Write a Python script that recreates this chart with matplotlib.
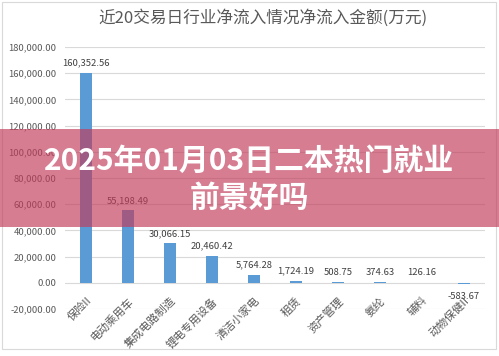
import matplotlib
matplotlib.use("Agg")
import matplotlib.pyplot as plt
from matplotlib.patches import Rectangle

plt.rcParams['font.family'] = ['Noto Sans CJK SC', 'DejaVu Sans']

categories = ["保险II", "电动乘用车", "集成电路制造", "锂电专用设备", "清洁小家电",
              "租赁", "资产管理", "氨纶", "辅料", "动物保健II"]
values = [160352.56, 55198.49, 30066.15, 20460.42, 5764.28,
          1724.19, 508.75, 374.63, 126.16, -583.67]
yticks = [-20000, 0, 20000, 40000, 60000, 80000, 100000, 120000, 140000, 160000, 180000]
title = "近20交易日行业净流入情况净流入金额(万元)"
banner_lines = ["2025年01月03日二本热门就业", "前景好吗"]

W, H = 499, 356
fig = plt.figure(figsize=(W / 100, H / 100), dpi=100)
fig.patch.set_facecolor("white")

# outer chart border
fig.patches.append(Rectangle((2 / W, 1 - 349 / H), 494 / W, 347 / H, transform=fig.transFigure,
                             fill=False, edgecolor="#d9d9d9", linewidth=0.8))

ax = fig.add_axes([65 / W, 1 - 309 / H, 420 / W, 262 / H])
x = list(range(len(categories)))
ax.bar(x, values, width=0.3, color="#5b9bd5", zorder=2)
ax.set_xlim(-0.5, len(categories) - 0.5)
ax.set_ylim(-20000, 180000)
ax.set_yticks(yticks)
ax.set_yticklabels([f"{v:,.2f}" for v in yticks], fontsize=6.8, color="#595959")
ax.tick_params(axis="y", length=0, pad=6)
ax.set_xticks([])
for s in ax.spines.values():
    s.set_visible(False)
ax.grid(axis="y", color="#d9d9d9", linewidth=0.8, zorder=0)
ax.set_axisbelow(True)

for xi, v in zip(x, values):
    if v >= 0:
        ax.annotate(f"{v:,.2f}", (xi, v), xytext=(0, 4), textcoords="offset points",
                    ha="center", va="bottom", fontsize=6.8, color="#404040")
    else:
        ax.annotate(f"{v:,.2f}", (xi, v), xytext=(0, -6), textcoords="offset points",
                    ha="center", va="top", fontsize=6.8, color="#404040")

for xi, c in zip(x, categories):
    ax.annotate(c, (xi, 0), xytext=(0, -9), textcoords="offset points",
                ha="right", va="top", rotation=45, rotation_mode="anchor",
                fontsize=8, color="#595959")

fig.text(263 / W, 1 - 18 / H, title, ha="center", va="center", fontsize=12, color="#595959")

# banner overlay
fig.patches.append(Rectangle((0, 1 - 227 / H), 1, 98 / H, transform=fig.transFigure,
                             facecolor="#c23a5a", alpha=0.66, edgecolor="none", zorder=10))
fig.text(0.5, 1 - 161 / H, banner_lines[0], ha="center", va="center", fontsize=21.5,
         fontweight="heavy", color="white", zorder=11)
fig.text(0.5, 1 - 198 / H, banner_lines[1], ha="center", va="center", fontsize=21.5,
         fontweight="heavy", color="white", zorder=11)

fig.savefig("out.png", dpi=100)
